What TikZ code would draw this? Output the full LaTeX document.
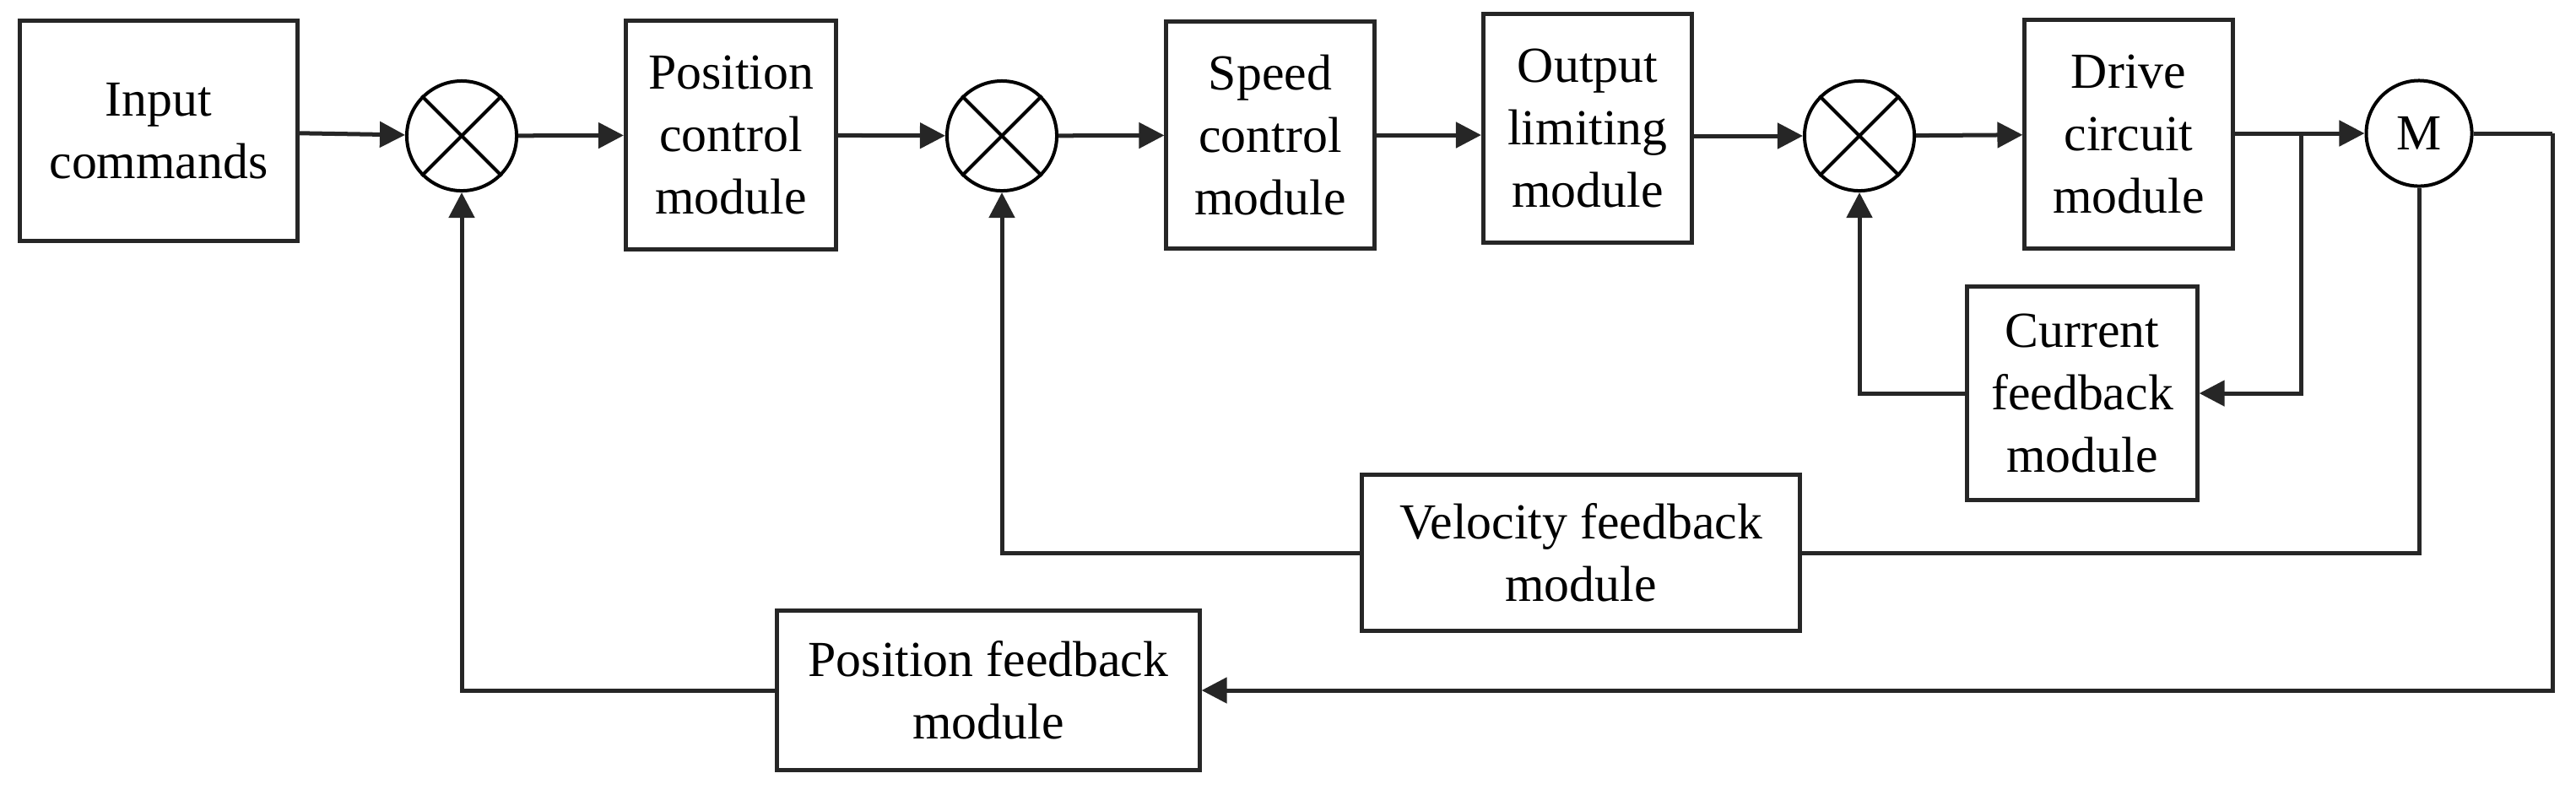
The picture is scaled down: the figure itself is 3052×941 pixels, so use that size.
\documentclass[tikz,border=0pt]{standalone}
\usepackage{fontspec}
\setmainfont{Liberation Serif}
\usetikzlibrary{positioning,calc,arrows.meta}

\begin{document}
\begin{tikzpicture}[x=0.01cm, y=-0.01cm,
blocknode/.style={rectangle, draw=black!85, line width=0.5mm, align=center, inner sep=0pt, font=\fontsize{17}{21}\selectfont},
sumnode/.style={circle, draw=black!100, line width=0.4mm, minimum size=1.3cm, inner sep=0pt},
motornode/.style={circle, draw=black!100, line width=0.4mm, minimum size=1.25cm, inner sep=0pt, font=\fontsize{17}{21}\selectfont},
line/.style={line width=0.5mm, draw=black!85},
arrow/.style={line, -{Triangle[length=3mm, width=3mm]}}
]
\useasboundingbox (0,0) rectangle (3052,941);

%Nodes
%Nodes forward path
\node[blocknode, minimum width=3.29cm, minimum height=2.61cm] (input_node) at (188,155) {Input\\commands};
\node[sumnode] (sum_node_1) at (547,161) {};
\node[blocknode, minimum width=2.49cm, minimum height=2.7cm] (position_node) at (866,160) {Position\\control\\module};
\node[sumnode] (sum_node_2) at (1187,161) {};
\node[blocknode, minimum width=2.46cm, minimum height=2.69cm] (speed_node) at (1505,160) {Speed\\control\\module};
\node[blocknode, minimum width=2.47cm, minimum height=2.7cm] (limit_node) at (1881,152) {Output\\limiting\\module};
\node[sumnode] (sum_node_3) at (2203,161) {};
\node[blocknode, minimum width=2.46cm, minimum height=2.7cm] (drive_node) at (2522,159) {Drive\\circuit\\module};
\node[motornode] (motor_node) at (2866,158) {M};

%Nodes feedback
\node[blocknode, minimum width=2.72cm, minimum height=2.53cm] (current_node) at (2467,466) {Current\\feedback\\module};
\node[blocknode, minimum width=5.18cm, minimum height=1.85cm] (velocity_node) at (1873,655) {Velocity feedback\\module};
\node[blocknode, minimum width=5cm, minimum height=1.89cm] (posfb_node) at (1171,818) {Position feedback\\module};

\coordinate (branch_node) at (2726,159);
\coordinate (motor_out) at (3024,158);

%Crosses in the sum nodes
\foreach \s in {sum_node_1, sum_node_2, sum_node_3}
{
\draw[line width=0.4mm] (\s.45) -- (\s.225) (\s.135) -- (\s.-45);
}

%Arrow
%Arrow along forward path
\draw [arrow] (input_node) -- (sum_node_1);
\draw [arrow] (sum_node_1) -- (position_node);
\draw [arrow] (position_node) -- (sum_node_2);
\draw [arrow] (sum_node_2) -- (speed_node);
\draw [arrow] (speed_node.east) -- (limit_node.west |- speed_node.east);
\draw [arrow] (limit_node.east |- sum_node_3) -- (sum_node_3);
\draw [arrow] (sum_node_3) -- (drive_node);
\draw [arrow] (drive_node.east |- motor_node) -- (motor_node);

%Arrow feedback loops
\draw [arrow] (branch_node) |- (current_node.east);
\draw [arrow] (current_node.west) -| (sum_node_3.south);
\draw [line] (motor_node.south) |- (velocity_node.east);
\draw [arrow] (velocity_node.west) -| (sum_node_2.south);
\draw [line] (motor_node.east) -- (motor_out);
\draw [arrow] (motor_out) |- (posfb_node.east);
\draw [arrow] (posfb_node.west) -| (sum_node_1.south);

\end{tikzpicture}
\end{document}
